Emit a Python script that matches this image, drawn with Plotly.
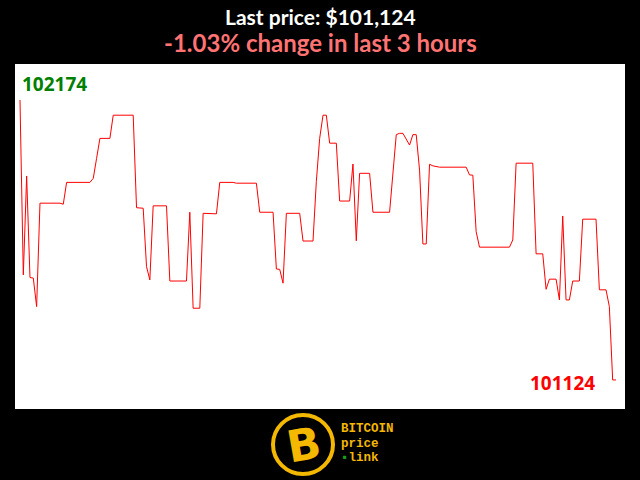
import plotly.graph_objects as go

# minute offsets within the last 3 hours (vertices of the price line)
minutes = [0, 1, 2, 3, 4, 5, 6, 12, 13, 14, 21, 22, 23, 24, 27, 28, 34, 35, 37, 38,
           39, 40, 44, 45, 50, 51, 52, 54, 55, 57, 59, 60, 64, 65, 71, 72, 76, 77, 78, 79,
           80, 84, 85, 88, 89, 90, 91, 92, 93, 95, 96, 99, 100, 101, 102, 105, 106, 111, 113, 114,
           115, 117, 118, 119, 120, 121, 122, 123, 124, 126, 134, 135, 136, 137, 138, 147, 148, 149, 154, 155,
           157, 158, 159, 161, 162, 163, 164, 165, 166, 168, 169, 173, 174, 176, 177, 178, 179]
prices = [102174, 101518, 101889, 101508, 101506, 101399, 101787, 101787, 101783, 101865,
          101865, 101880, 101955, 102030, 102030, 102117, 102117, 101770, 101768, 101549,
          101499, 101777, 101777, 101495, 101495, 101753, 101393, 101393, 101749, 101747,
          101747, 101865, 101865, 101862, 101862, 101753, 101753, 101540, 101539, 101487,
          101749, 101749, 101645, 101645, 101868, 102030, 102117, 102117, 102012, 102012,
          101795, 101795, 101934, 101646, 101899, 101899, 101753, 101753, 102044, 102049,
          102049, 102005, 102044, 102044, 101911, 101634, 101634, 101933, 101927, 101922,
          101922, 101893, 101892, 101680, 101622, 101622, 101649, 101937, 101937, 101597,
          101597, 101464, 101502, 101502, 101424, 101739, 101424, 101424, 101495, 101495,
          101727, 101727, 101462, 101462, 101399, 101124, 101124]

high_label = "102174"
low_label = "101124"
title_text = "Last price: $101,124"
subtitle_text = "-1.03% change in last 3 hours"
logo_lines = ["BITCOIN", "price", "link"]

GOLD = "#f5b800"

fig = go.Figure()
fig.add_trace(go.Scatter(x=minutes, y=prices, mode="lines",
                         line=dict(color="#ff0000", width=1), hoverinfo="skip"))

fig.update_layout(
    width=640, height=480,
    margin=dict(l=15, r=15, t=64, b=71),
    paper_bgcolor="#000000", plot_bgcolor="#ffffff",
    showlegend=False,
    xaxis=dict(range=[-1.5, 181.7], visible=False, fixedrange=True),
    yaxis=dict(range=[101015, 102309], visible=False, fixedrange=True),
)


def px(x):
    return (x - 15) / 610


def py(y):
    return (409 - y) / 345


ann = [
    dict(text="<b>" + title_text + "</b>", x=0.5, xref="paper", y=py(17), yref="paper",
         showarrow=False, xanchor="center", yanchor="middle",
         font=dict(family="Lato", size=21, color="#ffffff")),
    dict(text="<b>" + subtitle_text + "</b>", x=0.5, xref="paper", y=py(42), yref="paper",
         showarrow=False, xanchor="center", yanchor="middle",
         font=dict(family="Lato", size=24, color="#ff7373")),
    dict(text="<b>" + high_label + "</b>", x=px(20), xref="paper", y=py(84), yref="paper",
         showarrow=False, xanchor="left", yanchor="middle",
         font=dict(family="Noto Sans", size=19, color="#008000")),
    dict(text="<b>" + low_label + "</b>", x=px(597), xref="paper", y=py(383), yref="paper",
         showarrow=False, xanchor="right", yanchor="middle",
         font=dict(family="Noto Sans", size=19, color="#ff0000")),
    # logo
    dict(text="<b>B</b>", x=px(304), xref="paper", y=py(444), yref="paper",
         showarrow=False, xanchor="center", yanchor="middle", textangle=-10,
         font=dict(family="DejaVu Sans", size=44, color=GOLD)),
    dict(text="<b>" + logo_lines[0] + "</b>", x=px(339), xref="paper", y=py(429), yref="paper",
         showarrow=False, xanchor="left", yanchor="middle",
         font=dict(family="Liberation Mono", size=12.5, color=GOLD)),
    dict(text="<b>" + logo_lines[1] + "</b>", x=px(339), xref="paper", y=py(443.5), yref="paper",
         showarrow=False, xanchor="left", yanchor="middle",
         font=dict(family="Liberation Mono", size=12.5, color=GOLD)),
    dict(text="<span style='color:#1aa01a'>▪</span><b>" + logo_lines[2] + "</b>", x=px(339), xref="paper",
         y=py(458), yref="paper",
         showarrow=False, xanchor="left", yanchor="middle",
         font=dict(family="Liberation Mono", size=12.5, color=GOLD)),
]
fig.update_layout(annotations=ann)

fig.add_shape(type="circle", xref="paper", yref="paper",
              x0=px(273), x1=px(333), y0=py(474), y1=py(415),
              line=dict(color=GOLD, width=4), fillcolor="rgba(0,0,0,0)")

fig.write_html("out.html", config=dict(displayModeBar=False),
               post_script="document.body.style.margin='0';document.body.style.padding='0';")
